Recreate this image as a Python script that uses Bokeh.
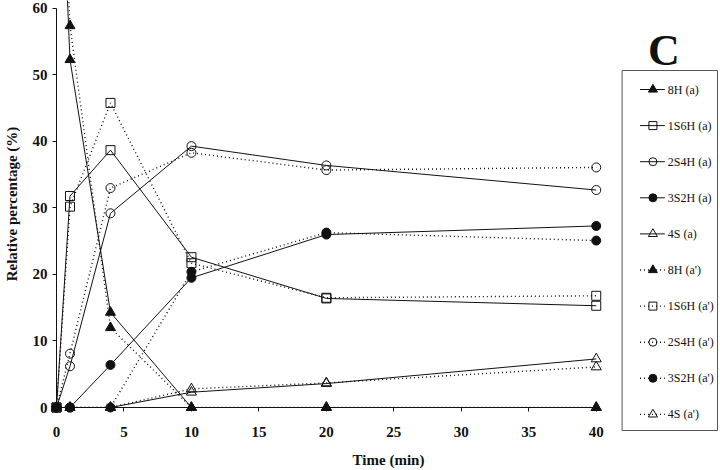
from bokeh.plotting import figure
from bokeh.models import Range1d, FixedTicker
from bokeh.core.properties import value
from bokeh.embed import file_html
from bokeh.resources import INLINE

time = [0, 1, 4, 10, 20, 40]

h8_a = [100, 52.3, 14.3, 0, 0, 0]
s1h6_a = [0, 31.8, 38.7, 22.6, 16.4, 15.3]
s2h4_a = [0, 6.2, 29.2, 39.3, 36.4, 32.7]
s3h2_a = [0, 0, 6.4, 19.5, 26.0, 27.3]
s4_a = [0, 0, 0, 2.3, 3.6, 7.3]

h8_b = [100, 57.4, 12.0, 0, 0, 0]
s1h6_b = [0, 30.2, 45.8, 21.7, 16.5, 16.8]
s2h4_b = [0, 8.1, 33.0, 38.3, 35.7, 36.1]
s3h2_b = [0, 0, 0, 20.4, 26.3, 25.1]
s4_b = [0, 0, 0, 2.8, 3.7, 6.1]

labels = ["8H (a)", "1S6H (a)", "2S4H (a)", "3S2H (a)", "4S (a)",
          "8H (a')", "1S6H (a')", "2S4H (a')", "3S2H (a')", "4S (a')"]
x_ticks = [0, 5, 10, 15, 20, 25, 30, 35, 40]
y_ticks = [0, 10, 20, 30, 40, 50, 60]
panel_letter = "C"

SERIF = "Liberation Serif"
INK = "#111111"

W, H = 720, 470
BL, BR, BT, BB = 52, 0, 0, 63            # borders around the plot frame (px)
AXIS_END_PX = 595                         # where x = 40 sits
X0, XMAX = 0, 40
X1 = XMAX * (W - BR - BL) / (AXIS_END_PX - BL)   # frame also spans the legend area
Y0, Y1 = 0, 61.2

p = figure(width=W, height=H, output_backend="svg", toolbar_location=None,
           x_range=Range1d(X0, X1), y_range=Range1d(Y0, Y1),
           min_border_left=BL, min_border_right=BR, min_border_top=BT, min_border_bottom=BB)
p.outline_line_color = None
p.grid.grid_line_color = None

for ax in (p.xaxis[0], p.yaxis[0]):
    ax.axis_line_color = INK
    ax.major_tick_line_color = INK
    ax.major_tick_out = 4
    ax.major_tick_in = 0
    ax.minor_tick_line_color = None
    ax.major_label_text_font = SERIF
    ax.major_label_text_font_style = "bold"
    ax.major_label_text_font_size = "15px"
    ax.major_label_text_color = INK
    ax.axis_label_text_font = SERIF
    ax.axis_label_text_font_style = "bold"
    ax.axis_label_text_font_size = "15px"
    ax.axis_label_text_color = INK

p.xaxis.ticker = FixedTicker(ticks=x_ticks)
p.yaxis.ticker = FixedTicker(ticks=y_ticks)
p.xaxis.axis_label = "Time (min)"
p.yaxis.axis_label = "Relative percentage (%)"
p.xaxis.bounds = (0, 40)
p.yaxis.bounds = (0, 60)
p.xaxis.major_label_standoff = 15
p.xaxis.axis_label_standoff = 12
p.yaxis.major_label_standoff = 5
p.yaxis.axis_label_standoff = 10

series = [
    (h8_a, "solid", "triangle", True),
    (s1h6_a, "solid", "square", False),
    (s2h4_a, "solid", "circle", False),
    (s3h2_a, "solid", "circle", True),
    (s4_a, "solid", "triangle", False),
    (h8_b, "1 3", "triangle", True),
    (s1h6_b, "1 3", "square", False),
    (s2h4_b, "1 3", "circle", False),
    (s3h2_b, "1 3", "circle", True),
    (s4_b, "1 3", "triangle", False),
]


def styles(dash, marker, filled, small=False):
    dotted = dash != "solid"
    line_kw = dict(line_color=INK, line_width=1.4 if dotted else 1.0, line_dash=dash)
    base = 10 if marker == "triangle" else 9
    mark_kw = dict(marker=marker, size=base - (1 if small else 0),
                   fill_color=INK if filled else "white",
                   fill_alpha=1.0 if filled else 0.0,
                   line_color=INK, line_width=1.0)
    return line_kw, mark_kw


for vals, dash, marker, filled in series:
    line_kw, mark_kw = styles(dash, marker, filled)
    p.line(time, vals, **line_kw)
    p.scatter(time, vals, level="overlay", **mark_kw)

# ---- legend box beside the curves (pixel layout -> data space) ----
FX0, FX1 = BL, W - BR
FY0, FY1 = BT, H - BB


def dx(px):
    return X0 + (px - FX0) * (X1 - X0) / (FX1 - FX0)


def dy(py):
    return Y0 + (FY1 - py) * (Y1 - Y0) / (FY1 - FY0)


box_l, box_r, box_t, box_b = 621, 717, 70, 430
p.quad(left=[dx(box_l)], right=[dx(box_r)], top=[dy(box_t)], bottom=[dy(box_b)],
       fill_color="white", line_color="#555555", line_width=1, level="overlay")

row_y0, row_step = 89, 36.1
seg_l, seg_r, mark_x, text_x = 639, 664, 652, 667
for i, ((vals, dash, marker, filled), lab) in enumerate(zip(series, labels)):
    py = row_y0 + i * row_step
    line_kw, mark_kw = styles(dash, marker, filled, small=True)
    p.line([dx(seg_l), dx(seg_r)], [dy(py), dy(py)], level="overlay", **line_kw)
    p.scatter([dx(mark_x)], [dy(py)], level="overlay", **mark_kw)
    p.text(x=[dx(text_x)], y=[dy(py)], text=[lab], text_font=value(SERIF),
           text_font_size="12px", text_align="left", text_baseline="middle",
           text_color=INK, level="overlay")

p.text(x=[dx(663)], y=[dy(50)], text=[panel_letter], text_font=value(SERIF),
       text_font_style="bold", text_font_size="44px", text_align="center",
       text_baseline="middle", text_color=INK, level="overlay")

open("out.html", "w").write(file_html(p, INLINE))
